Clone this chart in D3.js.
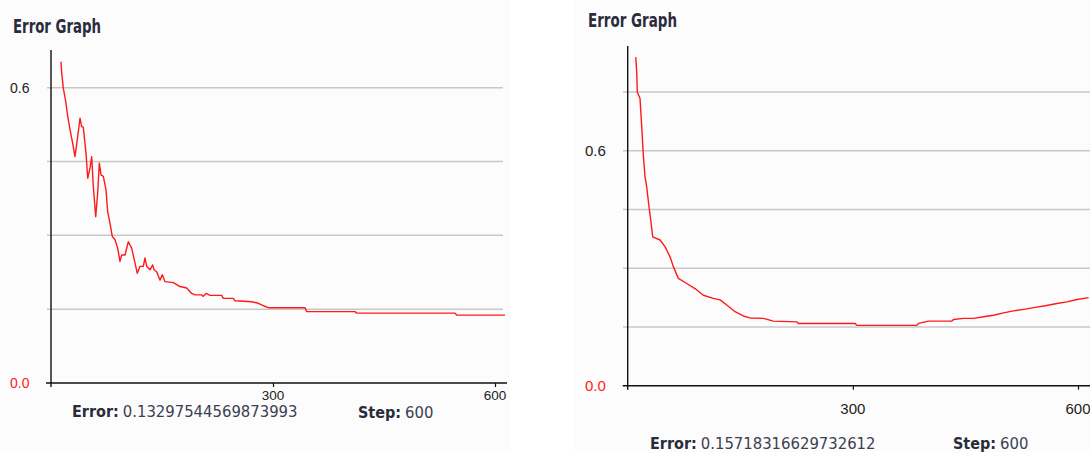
<!DOCTYPE html>
<html>
<head>
<meta charset="utf-8">
<script src="https://cdn.jsdelivr.net/npm/d3@7"></script>
<style>
  body { margin: 0; background: #ffffff; }
  svg { display: block; }
</style>
</head>
<body>
<div id="demo"></div>
<script>
// Left run: training step and error.
const leftSteps = [13.5, 14.5, 16.6, 19.9, 22.6, 25.7, 29.3, 32.4, 35.5, 39.2, 41.5, 43.6, 47.3, 49.6, 52.7, 55,
  57.2, 60.4, 63.1, 65.3, 67.6, 70.7, 74.3, 76.6, 79.7, 82.8, 86.5, 90.1, 93.2, 95.5, 100, 104.5, 109, 112.6,
  116.6, 120.3, 124.7, 127, 129.3, 133.8, 137.4, 139.2, 142.8, 147.3, 150.4, 154, 165.3, 174.3, 183.4, 190,
  194.6, 203.6, 205.8, 209.5, 214.9, 230.7, 232.8, 246.4, 248.6, 271.2, 280.1, 286.9, 293.6, 343.2, 345.5,
  410.8, 413.1, 545.9, 548.2, 613.5];
const leftErrors = [0.653, 0.63, 0.599, 0.572, 0.542, 0.515, 0.487, 0.46, 0.494, 0.538, 0.521, 0.52, 0.467, 0.416,
  0.437, 0.46, 0.399, 0.338, 0.386, 0.447, 0.423, 0.42, 0.393, 0.348, 0.325, 0.298, 0.291, 0.274, 0.247, 0.26,
  0.26, 0.287, 0.274, 0.25, 0.223, 0.237, 0.237, 0.254, 0.237, 0.23, 0.24, 0.23, 0.226, 0.209, 0.22, 0.206,
  0.204, 0.196, 0.193, 0.182, 0.179, 0.179, 0.176, 0.182, 0.178, 0.178, 0.172, 0.172, 0.167, 0.165, 0.162,
  0.157, 0.153, 0.153, 0.145, 0.145, 0.142, 0.142, 0.138, 0.138];

// Right run.
const rightSteps = [10.7, 12, 12.8, 16.4, 18.7, 20.8, 23.1, 25.3, 28.4, 30.7, 33.3, 43.1, 49.7, 56.4, 60.8, 67.5,
  78.7, 89.7, 100.8, 114.1, 123.1, 132, 143.1, 154.1, 163.1, 180.8, 194.1, 225.3, 227.5, 303.1, 305.3, 385.3,
  387.5, 400.8, 432, 434.1, 447.5, 460.8, 474.1, 487.5, 500.8, 514.1, 527.5, 543.1, 556.4, 572, 585.3, 598.7, 614.1];
const rightErrors = [0.839, 0.801, 0.75, 0.733, 0.661, 0.589, 0.533, 0.508, 0.457, 0.423, 0.38, 0.372, 0.355, 0.329,
  0.304, 0.274, 0.261, 0.248, 0.231, 0.223, 0.219, 0.206, 0.189, 0.178, 0.173, 0.172, 0.165, 0.163, 0.159,
  0.159, 0.154, 0.154, 0.159, 0.165, 0.165, 0.169, 0.172, 0.172, 0.176, 0.18, 0.186, 0.191, 0.195, 0.2,
  0.204, 0.21, 0.214, 0.22, 0.225];

const xTicks = [300, 600];
const yTickLabels = ["0.0", "0.6"];
const titleText = "Error Graph";
const errorTexts = ["0.13297544569873993", "0.15718316629732612"];
const stepTexts = ["600", "600"];

// Dimensions of page.
const W = 1090, H = 452;
const narrow = "'Liberation Sans Narrow', 'Arial Narrow', 'DejaVu Sans Condensed', sans-serif";
const plain = "'Liberation Sans', Arial, sans-serif";

const svg = d3.select("#demo").append("svg").attr("width", W).attr("height", H);

// Panel layouts (pixels), one for each chart.
const panels = [
  { bg: [0, 0, 510, 452], x0: 51, x600: 495, y0: 383, y06: 87.7, axisTop: 50, axisEnd: 507, gridL: 47, gridR: 503,
    grid: [0.15, 0.3, 0.45, 0.6], title: [13, 33], titleW: 88, yLab: 10, yFont: 14, xLabY: 400, xFont: 13.5,
    errX: 72, errY: 417, stepX: 358, stepY: 418,
    steps: leftSteps, errors: leftErrors, idx: 0 },
  { bg: [575, 0, 515, 452], x0: 627.7, x600: 1078, y0: 385.7, y06: 150.7, axisTop: 46, axisEnd: 1092, gridL: 623, gridR: 1092,
    grid: [0.15, 0.3, 0.45, 0.6, 0.75], title: [588, 27], titleW: 89, yLab: 585, yFont: 15, xLabY: 414, xFont: 15,
    errX: 650, errY: 449, stepX: 953, stepY: 449,
    steps: rightSteps, errors: rightErrors, idx: 1 }
];

panels.forEach(p => {
  const g = svg.append("g");

  g.append("rect")
    .attr("x", p.bg[0]).attr("y", p.bg[1]).attr("width", p.bg[2]).attr("height", p.bg[3])
    .attr("fill", "#fcfcfc");

  const xScale = d3.scaleLinear().domain([0, 600]).range([p.x0, p.x600]);
  const yScale = d3.scaleLinear().domain([0, 0.6]).range([p.y0, p.y06]);

  //Gridlines.
  g.selectAll(".grid")
    .data(p.grid)
    .enter()
    .append("line")
    .attr("class", "grid")
    .attr("x1", p.gridL).attr("x2", p.gridR)
    .attr("y1", d => yScale(d)).attr("y2", d => yScale(d))
    .attr("stroke", "#c8c8c8")
    .attr("stroke-width", 1.5);

  //Axis lines.
  g.append("line")
    .attr("x1", p.x0).attr("x2", p.x0)
    .attr("y1", p.axisTop).attr("y2", p.y0 + 4)
    .attr("stroke", "#111").attr("stroke-width", 1.4);
  g.append("line")
    .attr("x1", p.x0 - 5).attr("x2", p.axisEnd)
    .attr("y1", p.y0).attr("y2", p.y0)
    .attr("stroke", "#111").attr("stroke-width", 1.4);

  //x ticks through a d3 axis.
  const xAxis = d3.axisBottom(xScale).tickValues(xTicks).tickSize(4).tickFormat("");
  const ax = g.append("g").attr("transform", "translate(0," + p.y0 + ")").call(xAxis);
  ax.select(".domain").remove();
  ax.selectAll("line").attr("stroke", "#111").attr("stroke-width", 1.2);

  g.selectAll(".xlab")
    .data(xTicks)
    .enter()
    .append("text")
    .attr("class", "xlab")
    .attr("x", d => xScale(d))
    .attr("y", p.xLabY)
    .attr("text-anchor", "middle")
    .attr("font-family", plain)
    .attr("font-size", p.xFont)
    .attr("fill", "#222")
    .text(d => d);

  //y labels: only 0.0 and 0.6 are shown.
  g.selectAll(".ylab")
    .data(yTickLabels)
    .enter()
    .append("text")
    .attr("class", "ylab")
    .attr("x", p.yLab)
    .attr("y", d => yScale(+d) + p.yFont * 0.36)
    .attr("font-family", plain)
    .attr("font-size", p.yFont)
    .attr("fill", d => d === "0.0" ? "#ff2020" : "#222")
    .text(d => d);

  //Error curve.
  const pts = p.steps.map((s, i) => [s, p.errors[i]]);
  const line = d3.line().x(d => xScale(d[0])).y(d => yScale(d[1]));
  g.append("path")
    .attr("d", line(pts))
    .attr("fill", "none")
    .attr("stroke", "#ff1a1a")
    .attr("stroke-width", 1.4)
    .attr("stroke-linejoin", "round");

  //Title.
  g.append("text")
    .attr("x", p.title[0]).attr("y", p.title[1])
    .attr("font-family", narrow)
    .attr("font-weight", "bold")
    .attr("font-size", 20)
    .attr("textLength", p.titleW)
    .attr("lengthAdjust", "spacingAndGlyphs")
    .attr("fill", "#2a2c3c")
    .text(titleText);

  //Error and Step readouts: bold label then value, placed one after another.
  const readout = (x, y, label, value) => {
    const lab = g.append("text")
      .attr("x", x).attr("y", y)
      .attr("font-family", narrow).attr("font-weight", "bold").attr("font-size", 16)
      .attr("fill", "#2a2c3c")
      .text(label);
    const w = lab.node().getComputedTextLength();
    g.append("text")
      .attr("x", x + w + 4).attr("y", y)
      .attr("font-family", narrow).attr("font-size", 16.5)
      .attr("fill", "#3c4052")
      .text(value);
  };
  readout(p.errX, p.errY, "Error:", errorTexts[p.idx]);
  readout(p.stepX, p.stepY, "Step:", stepTexts[p.idx]);
});
</script>
</body>
</html>
